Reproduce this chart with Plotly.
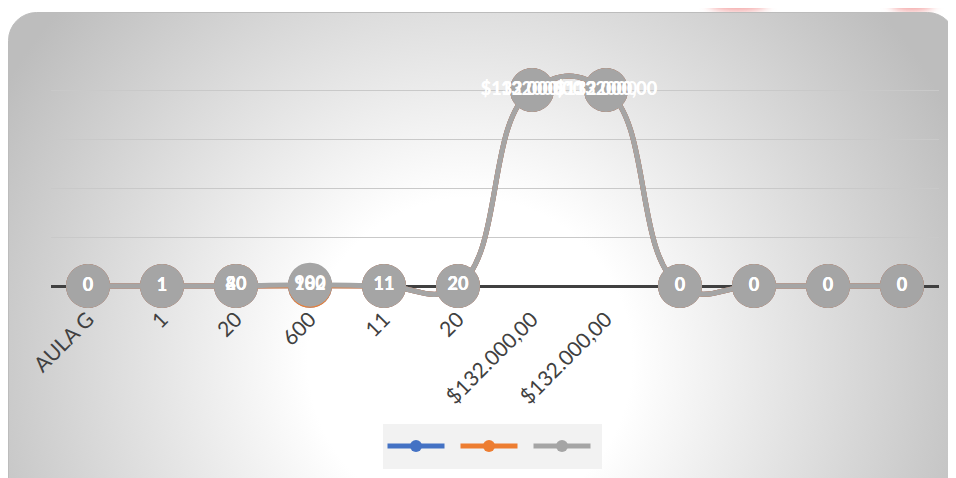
import base64
import plotly.graph_objects as go

# ---------------- data ----------------
categories = ["AULA G", "1", "20", "600", "11", "20",
              "$132.000,00", "$132.000,00", "", "", "", ""]
series_blue = [0, 1, 20, 180, 11, 20, 132000, 132000, 0, 0, 0, 0]
series_orange = [0, 1, 40, 102, 11, 20, 132000, 132000, 0, 0, 0, 0]
series_gray = [0, 1, 80, 900, 11, 20, 132000, 132000, 0, 0, 0, 0]
labels_blue = ["0", "1", "20", "180", "11", "20", "$132.000,00", "$132.000,00", "0", "0", "0", "0"]
labels_orange = ["0", "1", "40", "102", "11", "20", "132000", "132000", "0", "0", "0", "0"]
labels_gray = ["0", "1", "80", "900", "11", "20", "$132.000,00", "$132.000,00", "0", "0", "0", "0"]
y_step = 33000

x = list(range(len(categories)))

BLUE = "#4472c4"
ORANGE = "#ed7d31"
GRAY = "#a5a5a5"

# ---------------- background (card with radial gradient) ----------------
svg = """<svg xmlns="http://www.w3.org/2000/svg" width="956" height="478" viewBox="0 0 956 478">
<defs>
<radialGradient id="g" gradientUnits="userSpaceOnUse" cx="470" cy="360" r="540">
<stop offset="0" stop-color="#ffffff"/>
<stop offset="0.3" stop-color="#ffffff"/>
<stop offset="1" stop-color="#bdbdbd"/>
</radialGradient>
<filter id="b" x="-50%" y="-50%" width="200%" height="200%"><feGaussianBlur stdDeviation="5"/></filter>
</defs>
<rect x="0" y="0" width="956" height="478" fill="#ffffff"/>
<ellipse cx="738" cy="2" rx="30" ry="9" fill="#f29a9a" filter="url(#b)"/>
<ellipse cx="912" cy="2" rx="22" ry="9" fill="#f29a9a" filter="url(#b)"/>
<rect x="8.5" y="12.5" width="947" height="520" rx="28" ry="28" fill="url(#g)" stroke="#bcbcbc" stroke-width="1"/>
</svg>"""
src = "data:image/svg+xml;base64," + base64.b64encode(svg.encode()).decode()

# page is offset by the default 8px body margin; compensate in the margins
OFF = 8
VW, VH = 956, 478
W, H = VW + OFF, VH + OFF
ML, MT = 51 - OFF, 41 - OFF
MR = W - (939 - OFF)
MB = H - (335 - OFF)
PW = W - ML - MR
PH = H - MT - MB

fig = go.Figure()

for vals, col in [(series_blue, BLUE), (series_orange, ORANGE), (series_gray, GRAY)]:
    fig.add_trace(go.Scatter(
        x=x, y=vals, mode="lines+markers",
        line=dict(color=col, width=5, shape="spline", smoothing=1.3),
        marker=dict(color=col, size=44, line=dict(width=0)),
        showlegend=False, hoverinfo="skip", cliponaxis=False,
    ))

for vals, labs in [(series_blue, labels_blue), (series_orange, labels_orange), (series_gray, labels_gray)]:
    fig.add_trace(go.Scatter(
        x=x, y=vals, mode="text", text=labs, textposition="middle center",
        textfont=dict(color="#ffffff", size=18, family="Lato", weight="bold"),
        showlegend=False, hoverinfo="skip", cliponaxis=False,
    ))

for col in [BLUE, ORANGE, GRAY]:
    fig.add_trace(go.Scatter(
        x=[None], y=[None], mode="lines+markers", name=" ",
        line=dict(color=col, width=5),
        marker=dict(color=col, size=12),
        showlegend=True,
    ))

fig.update_layout(
    width=W, height=H,
    margin=dict(l=ML, r=MR, t=MT, b=MB),
    paper_bgcolor="rgba(0,0,0,0)",
    plot_bgcolor="rgba(0,0,0,0)",
    images=[dict(source=src, xref="paper", yref="paper",
                 x=-(ML + OFF) / PW, y=1 + (MT + OFF) / PH, sizex=VW / PW, sizey=VH / PH,
                 xanchor="left", yanchor="top", sizing="stretch", layer="below")],
    xaxis=dict(
        range=[-0.5, len(categories) - 0.5],
        tickmode="array", tickvals=x, ticktext=categories,
        tickangle=-45, ticks="", showgrid=False, zeroline=False, showline=False,
        tickfont=dict(family="Lato", size=21, color="#404040"),
        ticklabelstandoff=16,
        anchor="free", position=(y_step) / (6 * y_step),
        automargin=False,
    ),
    yaxis=dict(
        range=[-y_step, 5 * y_step], tick0=0, dtick=y_step,
        showticklabels=False, ticks="",
        showgrid=True, gridcolor="#c9c9c9", gridwidth=1,
        zeroline=True, zerolinecolor="#404040", zerolinewidth=3,
        automargin=False,
    ),
    legend=dict(
        orientation="h", x=(492 - OFF - ML) / PW, xanchor="center",
        y=-(424 - OFF - (MT + PH)) / PH, yanchor="top",
        bgcolor="#f2f2f2", font=dict(size=24),
        itemwidth=57, entrywidth=1, entrywidthmode="pixels",
        itemclick=False, itemdoubleclick=False,
    ),
    showlegend=True,
)

fig.write_html("out.html", config={"displayModeBar": False})
